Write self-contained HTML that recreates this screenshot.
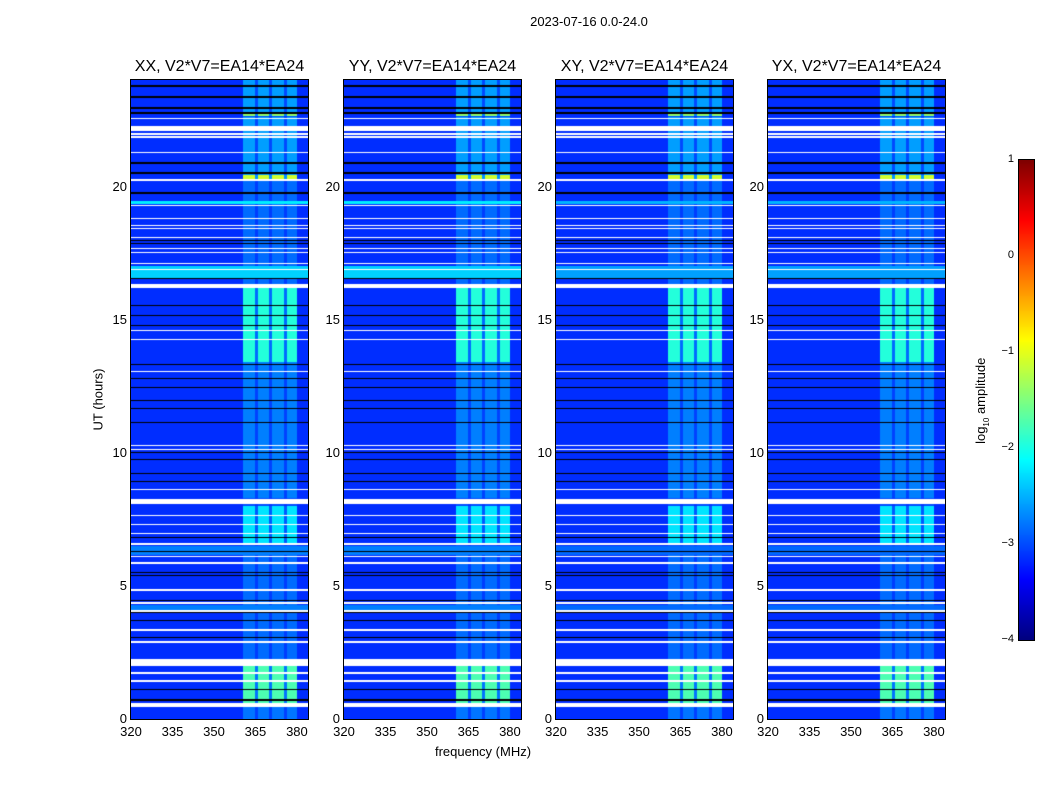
<!DOCTYPE html>
<html><head><meta charset="utf-8"><style>
body{margin:0;background:#fff;width:1050px;height:800px;overflow:hidden;position:relative;font-family:"Liberation Sans",sans-serif;}
.t{position:absolute;font-size:13px;color:#000;white-space:nowrap}
canvas{position:absolute}
</style></head><body>
<div class="t" style="left:0;width:1178px;text-align:center;top:14px">2023-07-16 0.0-24.0</div>
<div class="t" style="left:383px;width:200px;text-align:center;top:744px">frequency (MHz)</div>
<div class="t" style="left:48px;top:392px;width:100px;text-align:center;transform:rotate(-90deg)">UT (hours)</div>
<div id="root"></div>
<script>
// ---- data ----
const panelTitles = ["XX, V2*V7=EA14*EA24","YY, V2*V7=EA14*EA24","XY, V2*V7=EA14*EA24","YX, V2*V7=EA14*EA24"];
const xTicks = [320,335,350,365,380];
const yTicks = [0,5,10,15,20];
const cbTicks = [1,0,-1,-2,-3,-4];
const baseLevel = -3.15;
// flagged (white) time ranges, hours
const flagRows = [[0.45,0.6],[1.4,1.46],[1.7,1.75],[2.0,2.25],[2.87,2.92],[3.32,3.37],[4.03,4.08],[4.33,4.38],[4.82,4.87],[5.83,5.88],[6.09,6.14],[6.54,6.6],[6.95,7.0],[7.29,7.34],[7.63,7.68],[8.06,8.25],[8.6,8.65],[10.1,10.15],[10.25,10.3],[13.03,13.08],[14.23,14.28],[14.57,14.62],[16.2,16.35],[16.85,16.9],[17.08,17.13],[17.49,17.54],[17.64,17.69],[18.05,18.1],[18.39,18.44],[18.5,18.55],[18.77,18.82],[19.25,19.3],[20.2,20.3],[21.24,21.29],[21.84,21.89],[21.95,22.0],[22.1,22.27],[22.52,22.57]];
// dark (black) rows, hours
const darkRows = [0.71,1.12,2.89,3.07,3.71,4.01,4.46,5.4,5.51,5.89,6.3,6.82,8.92,9.22,9.75,10.0,11.14,11.66,11.96,12.45,12.79,13.31,14.77,15.15,15.52,16.54,17.85,17.96,19.76,20.51,20.88,22.76,22.95,23.36,23.77];
// broadband bright rows [start,end,level]
const brightRows = [[4.1,4.3,-2.75],[6.15,6.5,-2.75],[16.55,17.0,-2.35],[19.35,19.45,-2.2]];
const panelBrightScale = [1,1,0.7,0.7];
// RFI strength by time [start,end,level]
const rfiLevels = [[0,0.45,-2.8],[0.6,2.0,-1.75],[2.25,6.5,-2.85],[6.6,8.0,-2.25],[8.3,13.4,-2.75],[13.4,16.2,-1.95],[16.35,20.2,-2.85],[20.3,20.45,-1.1],[20.45,22.6,-2.6],[22.65,22.75,-1.4],[22.75,24,-2.6]];
// RFI sub-band channels [f0,f1] MHz
const rfiChannels = [[360.5,365],[366,370],[371,375.5],[376.5,380]];

// ---- layout ----
const panelLefts=[131,344,556,768], pW=177, pTop=80, pBot=719;
const f0=320,f1=384, h0=0,h1=24;
const xs=(l,f)=>l+(f-f0)/(f1-f0)*pW;
const ys=h=>pBot-(h-h0)/(h1-h0)*(pBot-pTop);
function jet(t){t=Math.max(0,Math.min(1,t));
 const r=Math.max(0,Math.min(1,1.5-Math.abs(4*t-3))),g=Math.max(0,Math.min(1,1.5-Math.abs(4*t-2))),b=Math.max(0,Math.min(1,1.5-Math.abs(4*t-1)));
 return [r*255|0,g*255|0,b*255|0];}
const lv2t=v=>(v+4)/5;
const root=document.getElementById('root');
function addText(txt,x,y,opts){const d=document.createElement('div');d.className='t';d.textContent=txt;
 d.style.left=x+'px';d.style.top=y+'px';if(opts&&opts.css)d.style.cssText+=opts.css;root.appendChild(d);return d;}

panelLefts.forEach((l,pi)=>{
 const c=document.createElement('canvas');c.width=pW;c.height=pBot-pTop;c.style.left=l+'px';c.style.top=pTop+'px';
 
 
 c.style.border='1px solid #000';c.style.marginLeft='-1px';c.style.marginTop='-1px';
 root.appendChild(c);
 const ctx=c.getContext('2d');const img=ctx.createImageData(pW,c.height);
 for(let py=0;py<c.height;py++){
  const h=(pBot-(py+pTop+0.5))/(pBot-pTop)*(h1-h0)+h0;
  let flag=flagRows.some(r=>h>=r[0]&&h<r[1]);
  let dark=darkRows.some(d=>Math.abs(h-d)<0.025);
  let rowLv=baseLevel;
  brightRows.forEach(r=>{if(h>=r[0]&&h<r[1])rowLv=baseLevel+(r[2]-baseLevel)*panelBrightScale[pi];});
  let rfi=-3;rfiLevels.forEach(r=>{if(h>=r[0]&&h<r[1])rfi=r[2];});
  for(let px=0;px<pW;px++){
   const f=f0+(px+0.5)/pW*(f1-f0);let v=rowLv;
   if(rfiChannels.some(ch=>f>=ch[0]&&f<ch[1]))v=Math.max(v,rfi);
   else if(f>=360.5&&f<380)v=Math.max(v,(rfi+baseLevel*3)/4);
   let col=flag?[255,255,255]:dark?[0,0,0]:jet(lv2t(v));
   const i=(py*pW+px)*4;img.data[i]=col[0];img.data[i+1]=col[1];img.data[i+2]=col[2];img.data[i+3]=255;}
 }
 ctx.putImageData(img,0,0);
 const tt=addText(panelTitles[pi],l-10,58,{css:'width:'+(pW+20)+'px;text-align:center;font-size:16px'});
 
 
 xTicks.forEach(f=>{const x=xs(l,f);const d=addText(String(f),x-15,724,{css:'width:30px;text-align:center'});
  
  });
 yTicks.forEach(h=>{const y=ys(h);const d=addText(String(h),l-40,y-8,{css:'width:36px;text-align:right'});
  
  });
});
// colorbar
const cb=document.createElement('canvas');cb.width=15;cb.height=480;cb.style.left='1019px';cb.style.top='160px';cb.style.border='1px solid #000';cb.style.marginLeft='-1px';cb.style.marginTop='-1px';


root.appendChild(cb);
{const x=cb.getContext('2d');for(let y=0;y<480;y++){const c=jet(1-y/479);x.fillStyle=`rgb(${c[0]},${c[1]},${c[2]})`;x.fillRect(0,y,15,1);}}
cbTicks.forEach(v=>{const y=160+(1-v)/5*480;const d=addText(String(v).replace('-','\u2212'),990,y-7,{css:'width:24px;text-align:right;font-size:11px'});
 
 });
const cl=addText('',932,392,{css:'width:100px;text-align:center;transform:rotate(-90deg)'});cl.innerHTML='log<sub style="font-size:8px">10</sub> amplitude';


</script>
</body></html>
